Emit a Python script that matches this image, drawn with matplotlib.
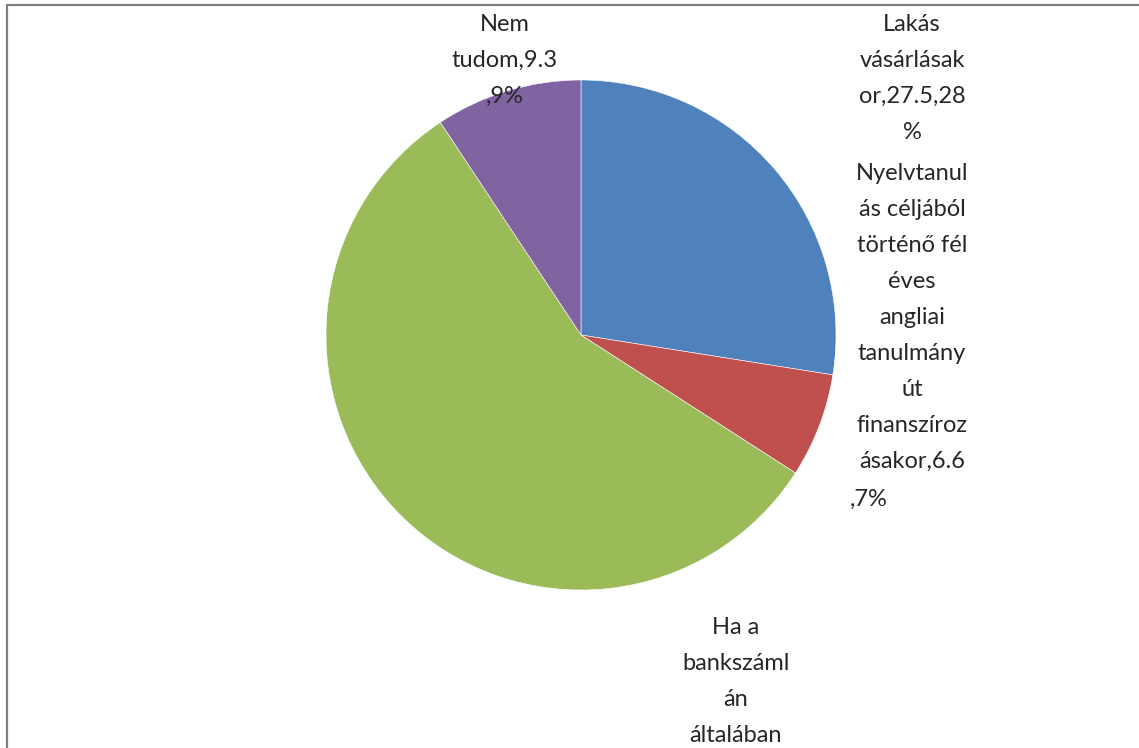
import matplotlib.pyplot as plt
from matplotlib.patches import Rectangle

# slice values (clockwise from 12 o'clock) and their labels
names = ["Lakás vásárlásakor",
         "Nyelvtanulás céljából történő fél éves angliai tanulmányút finanszírozásakor",
         "Ha a bankszámlán általában",
         "Nem tudom"]
values = [27.5, 6.6, 56.6, 9.3]
pcts = ["28%", "7%", "57%", "9%"]
colors = ["#4F81BD", "#C0504D", "#9BBB59", "#8064A2"]

# label text wrapped the way the original chart shows it
label_lines = [
    "Lakás\nvásárlásak\nor,27.5,28\n%",
    "Nyelvtanul\nás céljából\ntörténő fél\néves\nangliai\ntanulmány\nút\nfinanszíroz\násakor,6.6",
    "Ha a\nbankszáml\nán\náltalában",
    "Nem\ntudom,9.3\n,9%",
]

W, H = 1139, 748
fig = plt.figure(figsize=(W / 100, H / 100), dpi=100)
plt.rcParams['font.family'] = ['Lato', 'DejaVu Sans']

# pie centre ~(581, 335) px, radius ~255 px
cx, cy, r = 581, 335, 255
ax = fig.add_axes([(cx - r) / W, 1 - (cy + r) / H, 2 * r / W, 2 * r / H])
ax.pie(values, colors=colors, startangle=90, counterclock=False,
       wedgeprops=dict(linewidth=0.4, edgecolor="white"))
ax.set_aspect("auto")
ax.set_xlim(-1, 1)
ax.set_ylim(-1, 1)

# chart area frame (only top and left edges visible in the crop)
fig.patches.append(Rectangle((6.5 / W, -0.1), 1.2, 1 - 4.5 / H + 0.1,
                             transform=fig.transFigure, fill=False,
                             edgecolor="#7f7f7f", linewidth=1.6))

txt = dict(fontsize=17, color="#262626", ha="center", va="top",
           linespacing=1.88)
fig.text(912 / W, 1 - 14 / H, label_lines[0], **txt)
fig.text(912 / W, 1 - 163 / H, label_lines[1], **txt)
fig.text(850 / W, 1 - 489 / H, "," + pcts[1], fontsize=17, color="#262626",
         ha="left", va="top")
fig.text(736 / W, 1 - 617 / H, label_lines[2], **txt)
fig.text(505 / W, 1 - 14 / H, label_lines[3], **txt)

fig.savefig("out.png", dpi=100)
